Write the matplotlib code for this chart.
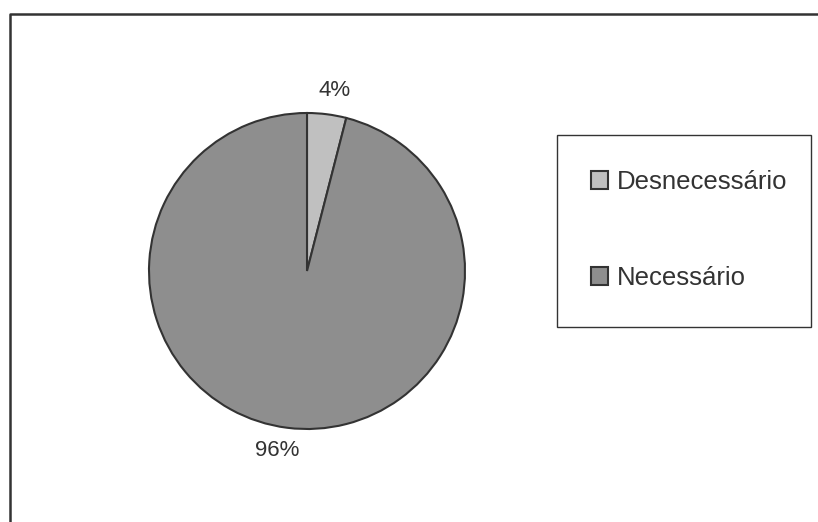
import matplotlib.pyplot as plt
from matplotlib.lines import Line2D
from matplotlib.patches import Rectangle

labels = ["Desnecessário", "Necessário"]
values = [4, 96]
colors = ["#c0c0c0", "#8e8e8e"]

W, H = 818, 522
fig = plt.figure(figsize=(W / 100, H / 100), dpi=100)
plt.rcParams['font.family'] = ['Liberation Sans', 'DejaVu Sans']

# square axes holding the pie, centre (307, 271) px, radius 158 px
cx, cy, r = 307, 271, 158
ax = fig.add_axes([(cx - r) / W, (H - cy - r) / H, 2 * r / W, 2 * r / H])
wedges, texts, autotexts = ax.pie(
    values, colors=colors, startangle=90, counterclock=False, radius=1,
    autopct='%1.0f%%', pctdistance=1.15,
    wedgeprops=dict(edgecolor='#333333', linewidth=1.5),
    textprops=dict(fontsize=16, color='#333333'))
ax.set_xlim(-1, 1)
ax.set_ylim(-1, 1)
ax.set_aspect('equal')
ax.axis('off')
autotexts[0].set_position((0.177, 1.14))
autotexts[1].set_position((-0.19, -1.133))

# legend box
fig.add_artist(Rectangle((557 / W, (H - 327) / H), (811 - 557) / W, (327 - 135) / H,
                         transform=fig.transFigure, facecolor='white',
                         edgecolor='#333333', linewidth=1.0))
leg = fig.legend(wedges, labels, loc='center left',
                 bbox_to_anchor=(568 / W, 1 - 230 / H), frameon=False,
                 fontsize=18.5, handlelength=0.65, handleheight=0.65,
                 handletextpad=0.35, labelspacing=2.8)
for t in leg.get_texts():
    t.set_color('#333333')

# outer frame, only top and left edges visible
fig.add_artist(Line2D([10 / W, 10 / W, 1.0], [0.0, 1 - 13.5 / H, 1 - 13.5 / H],
                      transform=fig.transFigure, color='#333333', linewidth=1.8))

fig.savefig('out.png', dpi=100)
